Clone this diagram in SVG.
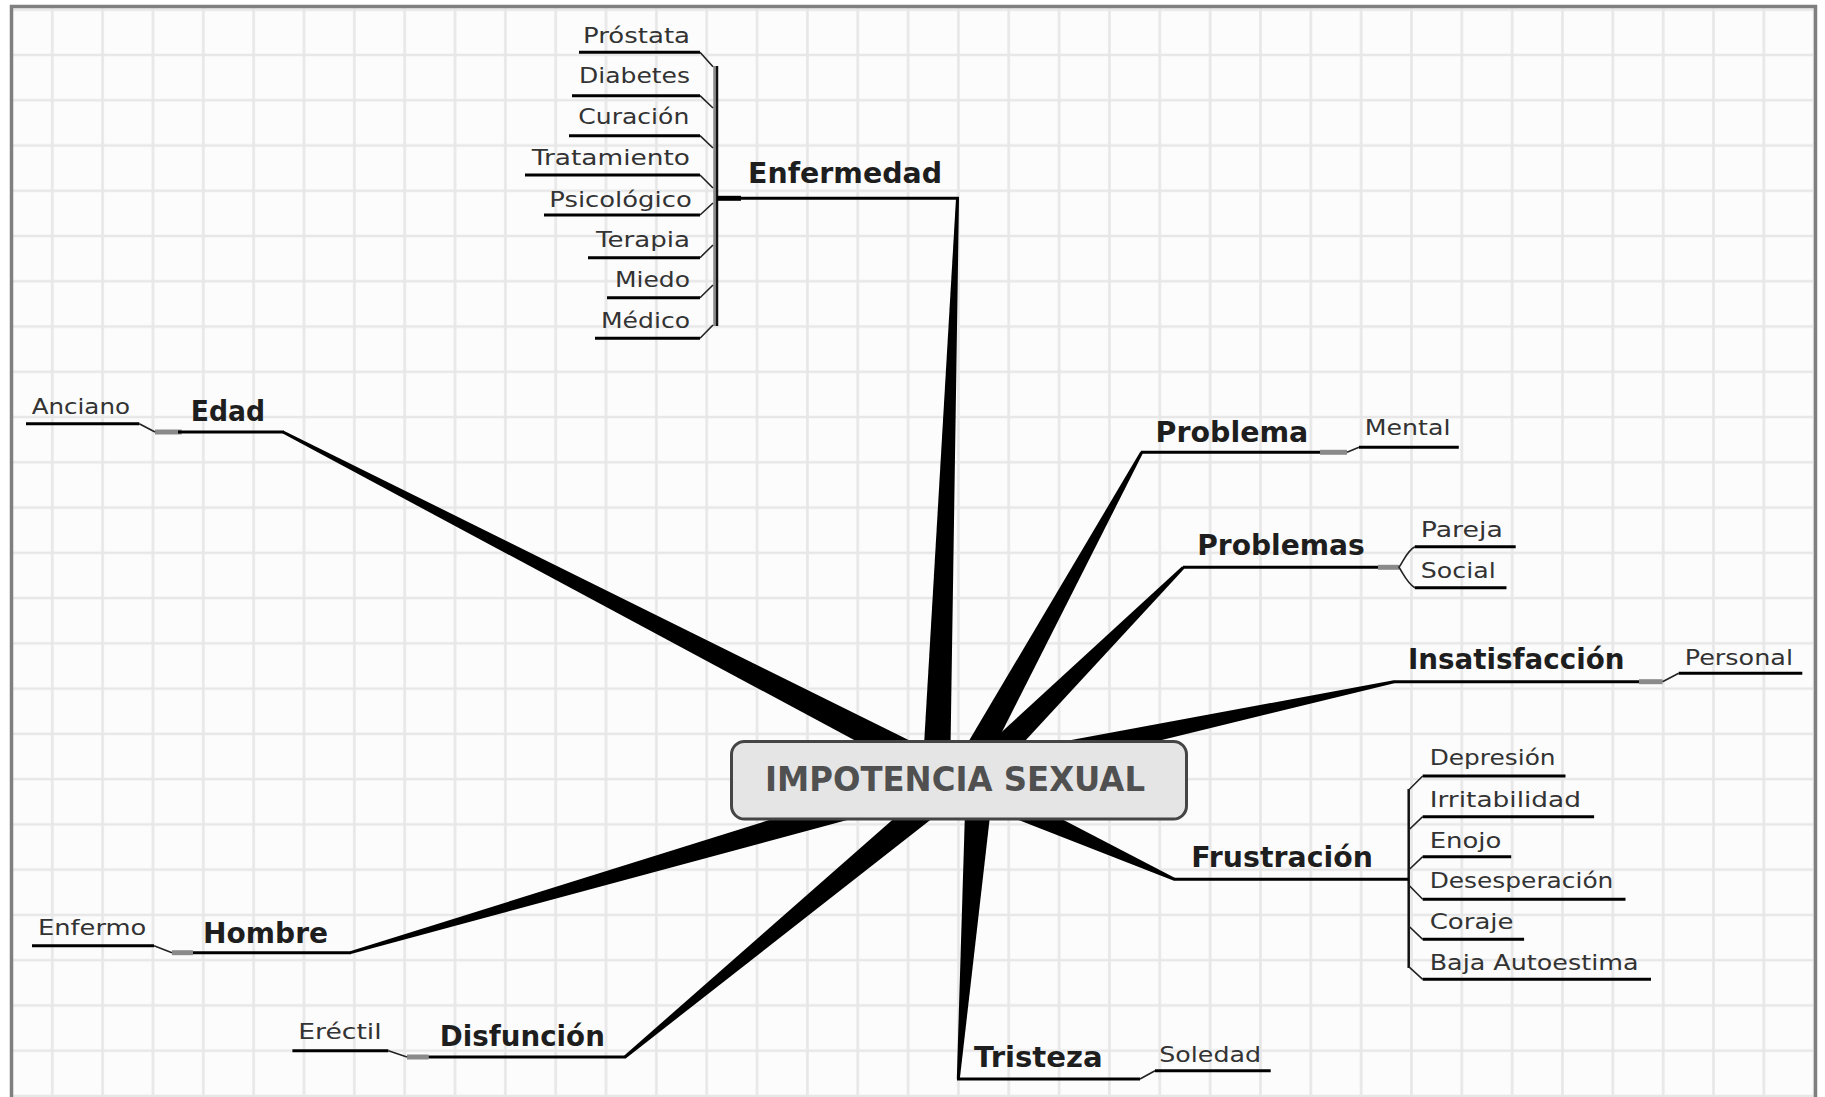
<svg xmlns="http://www.w3.org/2000/svg" width="1825" height="1097" viewBox="0 0 1825 1097">
  <defs>
    <pattern id="grid" patternUnits="userSpaceOnUse" x="27.13" y="-12.93" width="50.34" height="45.26">
      <path d="M25.17 0 V45.26 M0 22.63 H50.34" stroke="#e7e7e7" stroke-width="2.6" fill="none"/>
    </pattern>
    <style>
      .main { font-family: "DejaVu Sans", "Liberation Sans", sans-serif; font-weight: bold; font-size: 29px; fill: #1e1e1e; }
      .sub { font-family: "DejaVu Sans", "Liberation Sans", sans-serif; font-size: 22px; fill: #333333; }
      .root { font-family: "DejaVu Sans", "Liberation Sans", sans-serif; font-weight: bold; font-size: 33px; fill: #505050; }
      .ul { stroke: #000; stroke-width: 3; fill: none; }
      .thin { stroke: #222; stroke-width: 1.6; fill: none; }
      .stub { stroke: #8a8a8a; stroke-width: 5; fill: none; }
      .wedge { fill: #000; }
      .bracket { stroke: #111; stroke-width: 2.5; fill: none; }
    </style>
  </defs>

  <!-- paper and grid -->
  <rect x="0" y="0" width="1825" height="1097" fill="#ffffff"/>
  <rect x="11.5" y="6.5" width="1804" height="1100" fill="#fcfcfc"/>
  <rect x="11.5" y="6.5" width="1804" height="1100" fill="url(#grid)"/>
  <rect x="11.5" y="6.5" width="1804" height="1100" fill="none" stroke="#7f7f7f" stroke-width="3.5"/>

  <!-- branches and links -->
  <g id="connectors">
    <!-- tapered main branches -->
    <polygon class="wedge" points="956.0,198.4 959.0,198.6 950.0,780.5 922.0,779.5"/>
    <polygon class="wedge" points="283.7,430.7 966.4,768.6 953.6,793.4 282.3,433.3"/>
    <polygon class="wedge" points="1140.4,451.6 1143.0,453.0 974.3,786.7 949.7,773.3"/>
    <polygon class="wedge" points="1182.2,566.2 1184.4,568.4 979.9,789.9 960.1,770.1"/>
    <polygon class="wedge" points="1393.7,680.2 1394.3,683.2 962.9,788.7 957.1,761.3"/>
    <polygon class="wedge" points="1175.1,878.0 1173.9,880.7 954.2,794.8 965.8,769.2"/>
    <polygon class="wedge" points="959.8,1079.1 956.8,1078.9 966.0,779.0 994.0,781.0"/>
    <polygon class="wedge" points="624.0,1055.8 951.1,768.2 968.9,789.8 626.0,1058.2"/>
    <polygon class="wedge" points="350.0,951.3 956.1,761.6 963.9,788.4 350.8,954.1"/>

    <!-- Enfermedad bracket -->
    <line x1="714.5" y1="66" x2="714.5" y2="326" stroke="#8a8a8a" stroke-width="2.5"/>
    <line class="bracket" x1="717" y1="66" x2="717" y2="326"/>
    <line x1="717" y1="198.3" x2="741" y2="198.3" stroke="#000" stroke-width="5"/>
    <path class="thin" d="M700 52.3 L713 66.7 M700 95.7 L713 108 M700 135.7 L713 148 M700 175 L713 188 M700 215 L713 203 M700 257.7 L713 245 M700 297.7 L713 285 M700 338.3 L713 325"/>

    <!-- Problemas bracket -->
    <line class="stub" x1="1378" y1="567.3" x2="1399" y2="567.3"/>
    <path class="thin" d="M1414.8 546.7 C1407 551 1404 560 1399 567.3 C1404 575 1407 583 1414.8 587.7"/>

    <!-- Frustración bracket -->
    <line class="bracket" x1="1408.7" y1="789" x2="1408.7" y2="968"/>
    <path class="thin" d="M1408.7 790 L1422.7 776 M1408.7 830 L1422.7 816.7 M1408.7 870 L1422.7 856.7 M1408.7 885 L1422.7 899.3 M1408.7 926 L1422.7 939.3 M1408.7 966.7 L1422.7 979.3"/>

    <!-- single sub-topic links -->
    <line class="stub" x1="1320" y1="452.3" x2="1347" y2="452.3"/>
    <line class="thin" x1="1347" y1="452.3" x2="1359" y2="447.3"/>
    <line class="stub" x1="1639" y1="681.7" x2="1662.5" y2="681.7"/>
    <line class="thin" x1="1662.5" y1="681.7" x2="1678.7" y2="673.3"/>
    <line class="stub" x1="155" y1="432" x2="181.7" y2="432"/>
    <line class="thin" x1="139.3" y1="423.7" x2="155" y2="432"/>
    <line class="stub" x1="172" y1="952.7" x2="193" y2="952.7"/>
    <line class="thin" x1="154" y1="945.7" x2="172" y2="952.7"/>
    <line class="stub" x1="407" y1="1057" x2="428.6" y2="1057"/>
    <line class="thin" x1="388.4" y1="1050.7" x2="407" y2="1057"/>
    <line class="thin" x1="1140" y1="1079" x2="1155" y2="1070.7"/>
  </g>

  <!-- central topic -->
  <g id="node-root">
    <rect x="731.5" y="741.5" width="455" height="77.5" rx="13" fill="#e5e5e5" stroke="#454545" stroke-width="3"/>
    <text class="root" x="765" y="791" textLength="380" lengthAdjust="spacingAndGlyphs">IMPOTENCIA SEXUAL</text>
  </g>

  <!-- main topics -->
  <g id="node-enfermedad">
    <line class="ul" x1="740" y1="198.3" x2="959" y2="198.3"/>
    <text class="main" x="748" y="183.3" textLength="194" lengthAdjust="spacingAndGlyphs">Enfermedad</text>
  </g>
  <g id="node-edad">
    <line class="ul" x1="178" y1="432" x2="284" y2="432"/>
    <text class="main" x="190.7" y="420.7" textLength="74.3" lengthAdjust="spacingAndGlyphs">Edad</text>
  </g>
  <g id="node-problema">
    <line class="ul" x1="1141" y1="452.3" x2="1320" y2="452.3"/>
    <text class="main" x="1155.6" y="441.7" textLength="152.7" lengthAdjust="spacingAndGlyphs">Problema</text>
  </g>
  <g id="node-problemas">
    <line class="ul" x1="1183" y1="567.3" x2="1378" y2="567.3"/>
    <text class="main" x="1197.2" y="555" textLength="167.6" lengthAdjust="spacingAndGlyphs">Problemas</text>
  </g>
  <g id="node-insatisfaccion">
    <line class="ul" x1="1393.5" y1="681.7" x2="1639" y2="681.7"/>
    <text class="main" x="1407.9" y="669.3" textLength="216.6" lengthAdjust="spacingAndGlyphs">Insatisfacción</text>
  </g>
  <g id="node-frustracion">
    <line class="ul" x1="1174" y1="879.3" x2="1408.7" y2="879.3"/>
    <text class="main" x="1191.3" y="866.7" textLength="181.7" lengthAdjust="spacingAndGlyphs">Frustración</text>
  </g>
  <g id="node-tristeza">
    <line class="ul" x1="957" y1="1079" x2="1140" y2="1079"/>
    <text class="main" x="974" y="1067.3" textLength="128.7" lengthAdjust="spacingAndGlyphs">Tristeza</text>
  </g>
  <g id="node-disfuncion">
    <line class="ul" x1="428.6" y1="1057" x2="626" y2="1057"/>
    <text class="main" x="439.7" y="1046" textLength="165.2" lengthAdjust="spacingAndGlyphs">Disfunción</text>
  </g>
  <g id="node-hombre">
    <line class="ul" x1="193" y1="952.7" x2="351" y2="952.7"/>
    <text class="main" x="203.1" y="942.7" textLength="125" lengthAdjust="spacingAndGlyphs">Hombre</text>
  </g>

  <!-- sub-topics of Enfermedad -->
  <g id="node-prostata">
    <line class="ul" x1="579" y1="52.3" x2="700" y2="52.3"/>
    <text class="sub" x="583" y="43.3" textLength="107" lengthAdjust="spacingAndGlyphs">Próstata</text>
  </g>
  <g id="node-diabetes">
    <line class="ul" x1="572" y1="95.7" x2="700" y2="95.7"/>
    <text class="sub" x="579" y="83.3" textLength="111" lengthAdjust="spacingAndGlyphs">Diabetes</text>
  </g>
  <g id="node-curacion">
    <line class="ul" x1="569" y1="135.7" x2="700" y2="135.7"/>
    <text class="sub" x="578.3" y="124" textLength="111" lengthAdjust="spacingAndGlyphs">Curación</text>
  </g>
  <g id="node-tratamiento">
    <line class="ul" x1="525" y1="175" x2="700" y2="175"/>
    <text class="sub" x="531.7" y="165" textLength="158.3" lengthAdjust="spacingAndGlyphs">Tratamiento</text>
  </g>
  <g id="node-psicologico">
    <line class="ul" x1="544" y1="215" x2="700" y2="215"/>
    <text class="sub" x="549.3" y="206.7" textLength="142.4" lengthAdjust="spacingAndGlyphs">Psicológico</text>
  </g>
  <g id="node-terapia">
    <line class="ul" x1="588" y1="257.7" x2="700" y2="257.7"/>
    <text class="sub" x="596" y="246.7" textLength="94" lengthAdjust="spacingAndGlyphs">Terapia</text>
  </g>
  <g id="node-miedo">
    <line class="ul" x1="607" y1="297.7" x2="700" y2="297.7"/>
    <text class="sub" x="615" y="286.7" textLength="75" lengthAdjust="spacingAndGlyphs">Miedo</text>
  </g>
  <g id="node-medico">
    <line class="ul" x1="595" y1="338.3" x2="700" y2="338.3"/>
    <text class="sub" x="601" y="328.3" textLength="89" lengthAdjust="spacingAndGlyphs">Médico</text>
  </g>

  <!-- other sub-topics -->
  <g id="node-anciano">
    <line class="ul" x1="26" y1="423.7" x2="139.3" y2="423.7"/>
    <text class="sub" x="31.7" y="414.3" textLength="98.3" lengthAdjust="spacingAndGlyphs">Anciano</text>
  </g>
  <g id="node-mental">
    <line class="ul" x1="1359" y1="447.3" x2="1458.8" y2="447.3"/>
    <text class="sub" x="1364.8" y="435" textLength="85.7" lengthAdjust="spacingAndGlyphs">Mental</text>
  </g>
  <g id="node-pareja">
    <line class="ul" x1="1414.8" y1="546.7" x2="1515.7" y2="546.7"/>
    <text class="sub" x="1420.8" y="536.7" textLength="82" lengthAdjust="spacingAndGlyphs">Pareja</text>
  </g>
  <g id="node-social">
    <line class="ul" x1="1414.8" y1="587.7" x2="1506.5" y2="587.7"/>
    <text class="sub" x="1420.8" y="578.3" textLength="75" lengthAdjust="spacingAndGlyphs">Social</text>
  </g>
  <g id="node-personal">
    <line class="ul" x1="1678.7" y1="673.3" x2="1802.3" y2="673.3"/>
    <text class="sub" x="1684.7" y="665" textLength="108.3" lengthAdjust="spacingAndGlyphs">Personal</text>
  </g>
  <g id="node-depresion">
    <line class="ul" x1="1422.7" y1="776" x2="1565.5" y2="776"/>
    <text class="sub" x="1429.7" y="765" textLength="125.9" lengthAdjust="spacingAndGlyphs">Depresión</text>
  </g>
  <g id="node-irritabilidad">
    <line class="ul" x1="1422.7" y1="816.7" x2="1594.1" y2="816.7"/>
    <text class="sub" x="1429.7" y="806.7" textLength="151.3" lengthAdjust="spacingAndGlyphs">Irritabilidad</text>
  </g>
  <g id="node-enojo">
    <line class="ul" x1="1422.7" y1="856.7" x2="1511.2" y2="856.7"/>
    <text class="sub" x="1429.7" y="847.7" textLength="71.7" lengthAdjust="spacingAndGlyphs">Enojo</text>
  </g>
  <g id="node-desesperacion">
    <line class="ul" x1="1422.7" y1="899.3" x2="1625.5" y2="899.3"/>
    <text class="sub" x="1429.7" y="887.7" textLength="183.7" lengthAdjust="spacingAndGlyphs">Desesperación</text>
  </g>
  <g id="node-coraje">
    <line class="ul" x1="1422.7" y1="939.3" x2="1524.1" y2="939.3"/>
    <text class="sub" x="1429.7" y="929.3" textLength="83.9" lengthAdjust="spacingAndGlyphs">Coraje</text>
  </g>
  <g id="node-baja-autoestima">
    <line class="ul" x1="1422.7" y1="979.3" x2="1651" y2="979.3"/>
    <text class="sub" x="1429.7" y="970" textLength="208.8" lengthAdjust="spacingAndGlyphs">Baja Autoestima</text>
  </g>
  <g id="node-enfermo">
    <line class="ul" x1="32" y1="945.7" x2="154" y2="945.7"/>
    <text class="sub" x="37.9" y="935" textLength="108.5" lengthAdjust="spacingAndGlyphs">Enfermo</text>
  </g>
  <g id="node-erectil">
    <line class="ul" x1="292.4" y1="1050.7" x2="388.4" y2="1050.7"/>
    <text class="sub" x="298.2" y="1039.3" textLength="83.5" lengthAdjust="spacingAndGlyphs">Eréctil</text>
  </g>
  <g id="node-soledad">
    <line class="ul" x1="1155" y1="1070.7" x2="1270.7" y2="1070.7"/>
    <text class="sub" x="1159.3" y="1061.7" textLength="101.7" lengthAdjust="spacingAndGlyphs">Soledad</text>
  </g>
</svg>
